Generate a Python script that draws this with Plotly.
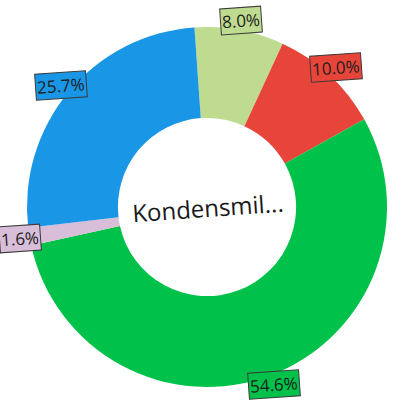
import numpy as np
import plotly.graph_objects as go

categories = ["Kategorie A", "Kategorie B", "Kategorie C", "Kategorie D", "Kategorie E"]
values = [8.0, 10.0, 54.6, 1.6, 25.7]
labels_text = ["8.0%", "10.0%", "54.6%", "1.6%", "25.7%"]
colors = ["#bfdb8f", "#e8453a", "#00c24b", "#d8bed8", "#1a96e6"]
center_title = "Kondensmil..."

ROT = -4.0  # degrees, start angle of first slice (clockwise from 12 o'clock)
W = H = 415
L, T, R = 27, 27, 360  # margins and pie diameter in px

fig = go.Figure(go.Pie(
    labels=categories,
    values=values,
    marker=dict(colors=colors, line=dict(width=0)),
    hole=0.495,
    sort=False,
    direction="clockwise",
    rotation=ROT,
    textinfo="none",
    hoverinfo="label+percent",
    showlegend=False,
))

# label positions derived from the data (mid-angle of each slice)
vals = np.array(values)
cum = np.cumsum(vals) - vals / 2
mid = np.deg2rad(ROT + cum / vals.sum() * 360.0)
rlab = 0.527  # in units of domain width
annotations = []
for ang, txt, col in zip(mid, labels_text, colors):
    annotations.append(dict(
        x=0.5 + rlab * np.sin(ang), y=0.5 + rlab * np.cos(ang),
        xref="paper", yref="paper", text=txt, showarrow=False,
        textangle=-4,
        font=dict(family="Open Sans", size=17, color="#1e1e1e"),
        bgcolor=col, bordercolor="#3a3a3a", borderwidth=1, borderpad=1,
        xanchor="center", yanchor="middle",
    ))
annotations.append(dict(
    x=0.5, y=0.5, xref="paper", yref="paper", text=center_title,
    showarrow=False, textangle=-4,
    font=dict(family="Open Sans", size=24, color="#1a1a1a"),
    xanchor="center", yanchor="middle",
))

fig.update_layout(
    width=W, height=H,
    margin=dict(l=L, t=T, r=W - L - R, b=H - T - R),
    paper_bgcolor="white", plot_bgcolor="white",
    annotations=annotations,
)
fig.write_html("out.html", config={"displayModeBar": False},
               post_script="document.body.style.margin='0';")
